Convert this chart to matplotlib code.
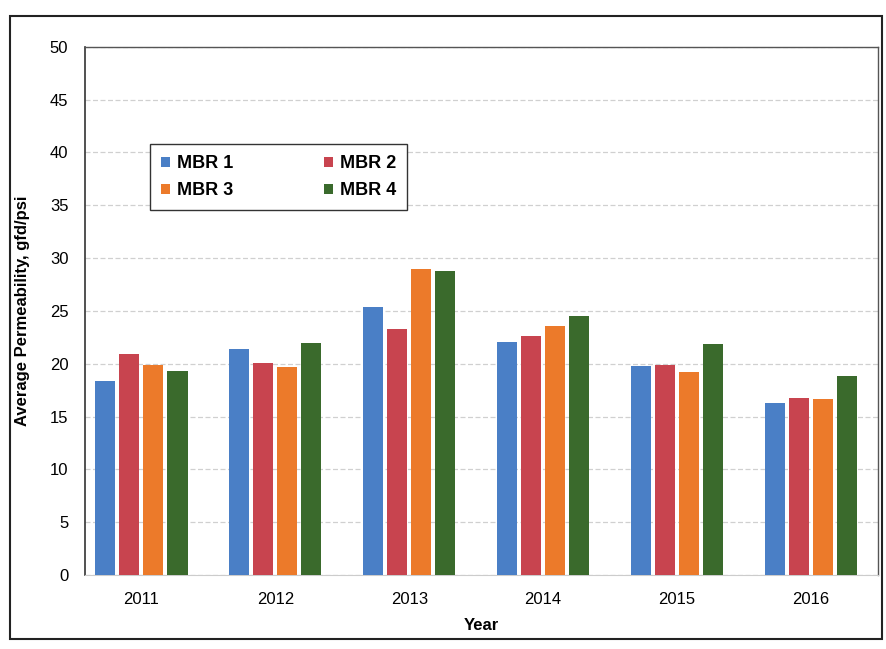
import numpy as np
import matplotlib.pyplot as plt
from matplotlib.patches import Rectangle

plt.rcParams['font.family'] = ['Liberation Sans', 'DejaVu Sans']

years = ['2011', '2012', '2013', '2014', '2015', '2016']
mbr1 = [18.4, 21.4, 25.4, 22.1, 19.8, 16.3]
mbr2 = [20.9, 20.1, 23.3, 22.6, 19.9, 16.8]
mbr3 = [19.9, 19.7, 29.0, 23.6, 19.2, 16.7]
mbr4 = [19.3, 22.0, 28.8, 24.5, 21.9, 18.8]
labels = ['MBR 1', 'MBR 2', 'MBR 3', 'MBR 4']
colors = ['#4a7fc6', '#c8444f', '#ec7a2a', '#3a6a2c']

fig = plt.figure(figsize=(8.86, 6.49), dpi=100)
ax = fig.add_axes([0.096, 0.114, 0.895, 0.814])

x = np.arange(len(years))
width = 0.15
pitch = 0.18
series = [mbr1, mbr2, mbr3, mbr4]
bars = []
for i, vals in enumerate(series):
    b = ax.bar(x + (i - 1.5) * pitch, vals, width, color=colors[i], label=labels[i], zorder=3)
    bars.append(b)

ax.set_ylim(0, 50)
ax.set_yticks(range(0, 51, 5))
ax.set_xlim(-0.42, 5.5)
ax.set_xticks(x)
ax.set_xticklabels(years)
ax.tick_params(axis='both', length=0, labelsize=12)
ax.tick_params(axis='x', pad=12)
ax.tick_params(axis='y', pad=12)
ax.yaxis.grid(True, color='#d0d0d0', linewidth=0.9, linestyle=(0, (4, 2)), zorder=0)

for side in ['top', 'right']:
    ax.spines[side].set_color('#555555')
    ax.spines[side].set_linewidth(1.0)
ax.spines['left'].set_color('#333333')
ax.spines['left'].set_linewidth(1.2)
ax.spines['bottom'].set_color('#cccccc')
ax.spines['bottom'].set_linewidth(0.8)

ax.set_ylabel('Average Permeability, gfd/psi', fontsize=12, fontweight='bold', labelpad=14)
ax.set_xlabel('Year', fontsize=12, fontweight='bold', labelpad=8)

# legend fills column by column, so reorder to get MBR 1 / MBR 2 on the first row
order = [0, 2, 1, 3]
leg = ax.legend([bars[i] for i in order], [labels[i] for i in order],
                ncol=2, loc='upper left', bbox_to_anchor=(0.082, 0.815),
                prop={'weight': 'bold', 'size': 13},
                handlelength=0.5, handleheight=0.5, handletextpad=0.4,
                columnspacing=5.0, labelspacing=0.55,
                frameon=True, fancybox=False, borderpad=0.6, borderaxespad=0)
leg.get_frame().set_edgecolor('#333333')
leg.get_frame().set_linewidth(1.0)
leg.get_frame().set_alpha(1)

# outer chart border
fig.patches.append(Rectangle((0.011, 0.015), 0.985, 0.96, transform=fig.transFigure,
                             fill=False, edgecolor='#222222', linewidth=1.5))

fig.savefig('out.png', dpi=100)
